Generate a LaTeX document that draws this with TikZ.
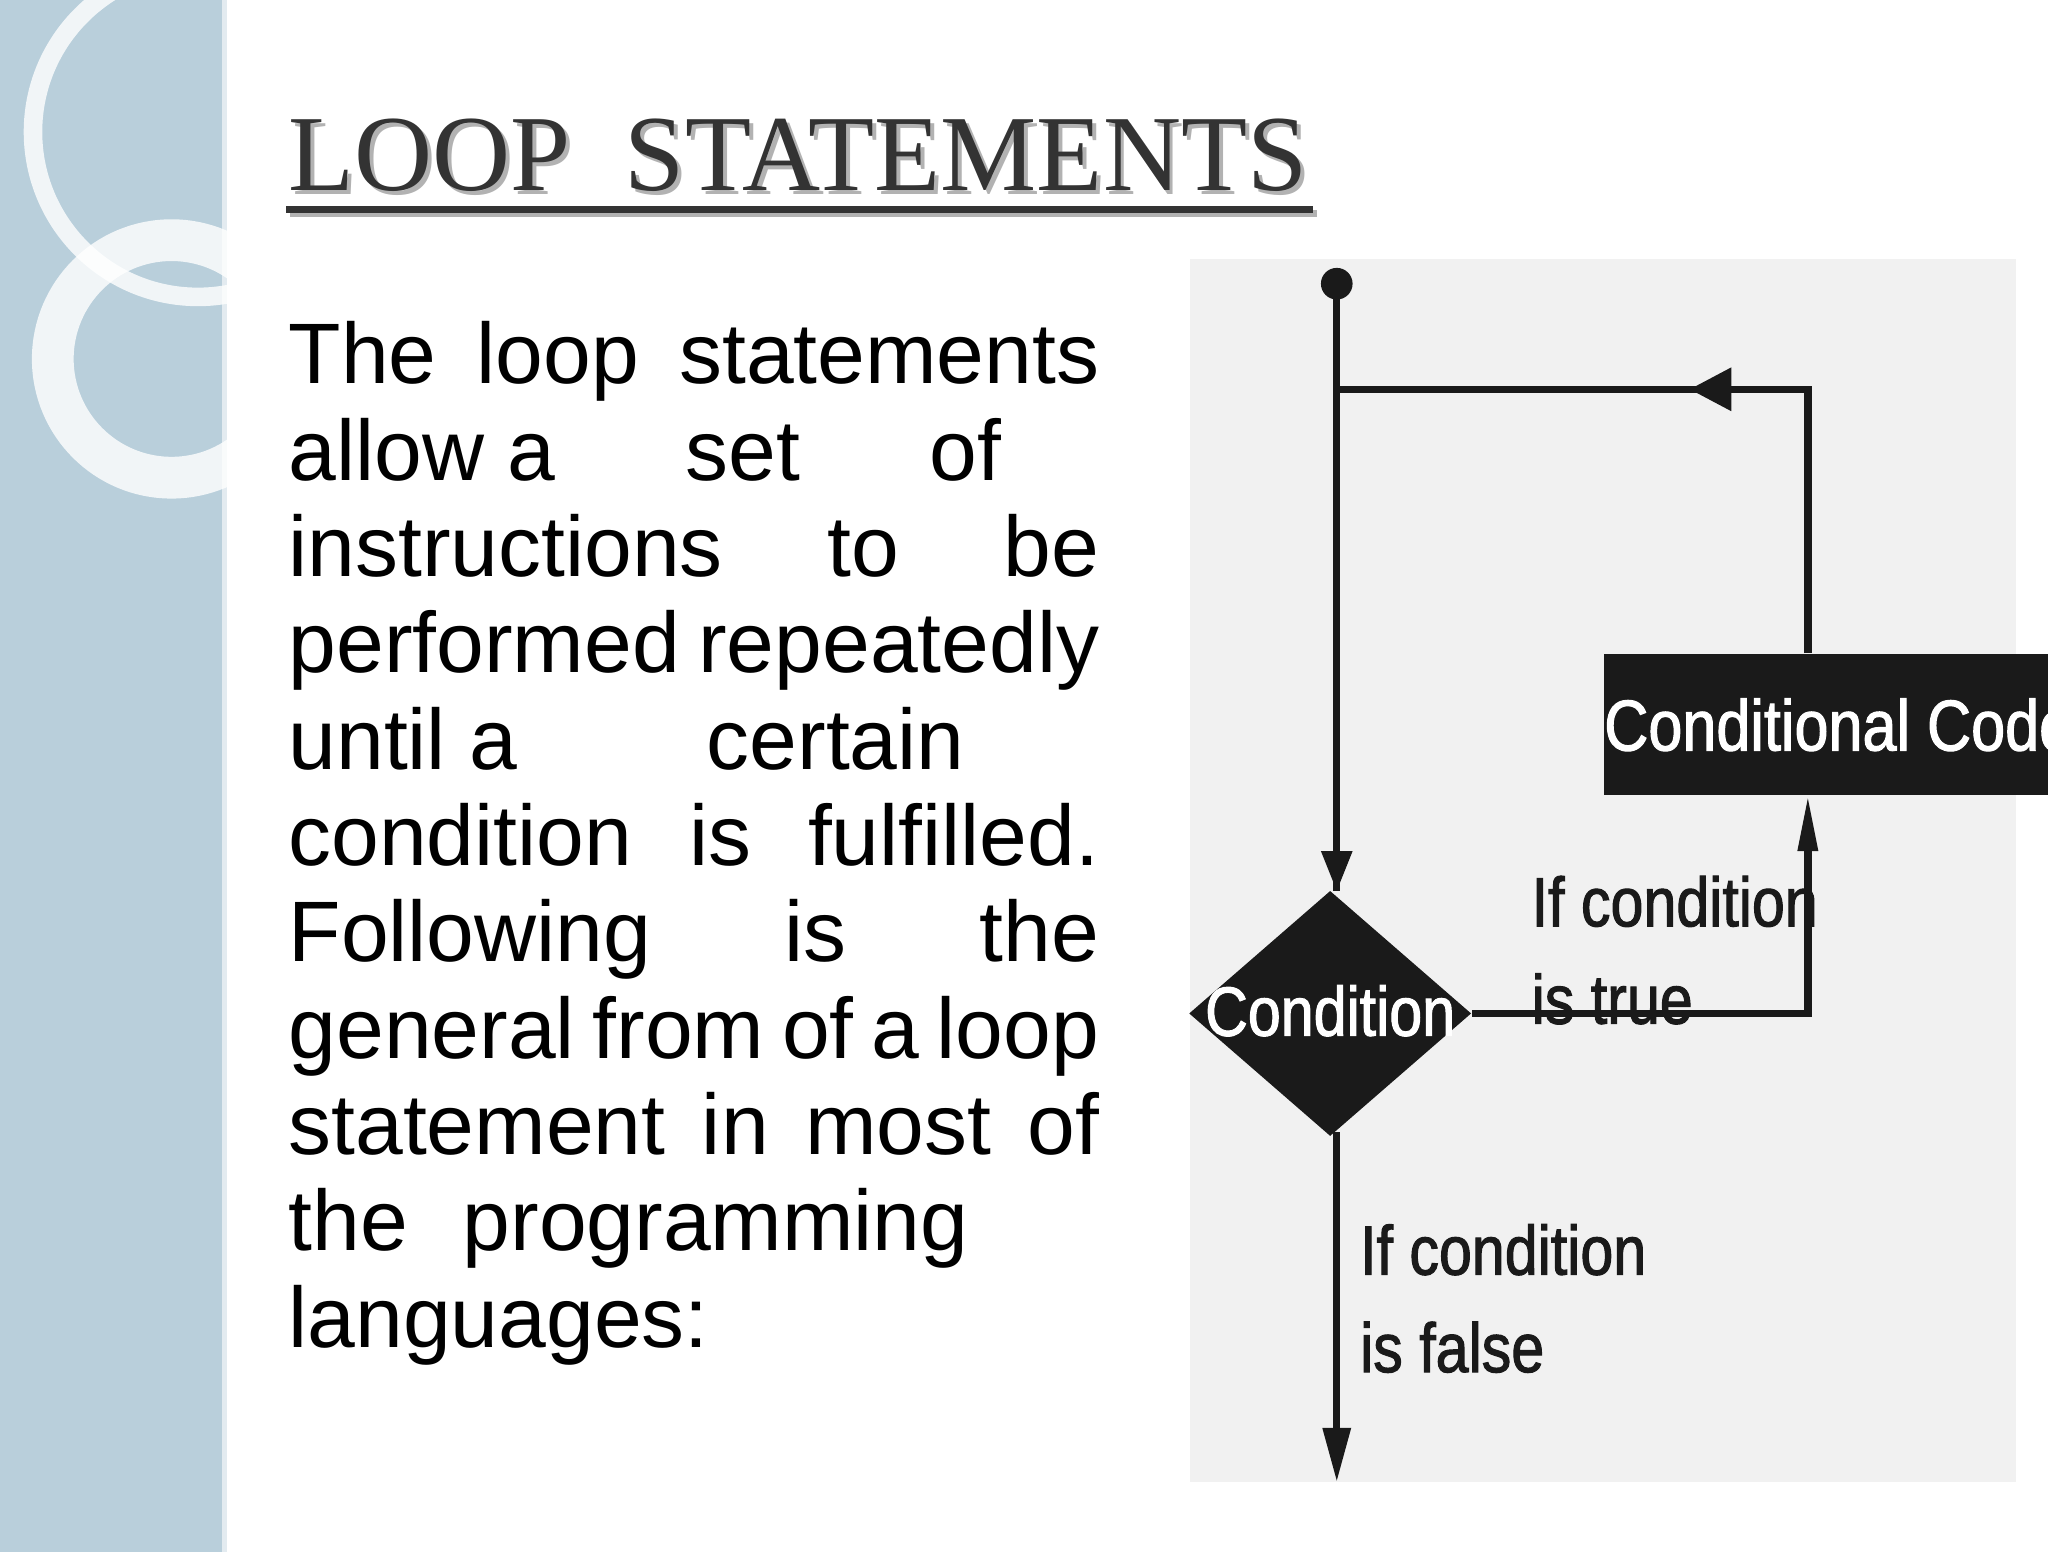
\documentclass[tikz,border=0pt]{standalone}
\usepackage{fontspec}
\setmainfont{Liberation Sans}
\newfontfamily\titlefont{Liberation Serif}
\newfontfamily\diagfont{Liberation Sans}[FakeBold=1.5,FakeStretch=0.85]
\usetikzlibrary{arrows.meta,shapes.geometric,decorations.markings}
\definecolor{band}{HTML}{B9CFDB}
\definecolor{panel}{HTML}{F1F1F1}
\definecolor{dark}{HTML}{1A1A1A}
\begin{document}
\begin{tikzpicture}[x=0.01cm,y=-0.01cm,
  flow/.style={draw=dark,line width=1.6pt},
  midarrow/.style={postaction={decorate},decoration={markings,mark=at position #1 with {\arrow{Triangle[length=9pt,width=9pt]}}}},
  lbl/.style={font=\diagfont\fontsize{15}{19}\selectfont,text=dark,align=left,anchor=north west,inner sep=0pt},
  body/.style={anchor=north west,inner sep=0pt,font=\fontsize{18.5}{22}\selectfont}]
\useasboundingbox (0,0) rectangle (1552,1176);
\fill[white] (0,0) rectangle (1552,1176);
% left band
\fill[band] (0,0) rectangle (172,1176);
\draw[white,line width=4pt,opacity=0.8] (150,100) circle (125);
\draw[white,line width=9pt,opacity=0.8] (130,272) circle (90);
\draw[white,line width=2pt,opacity=0.6] (172,0) -- (172,1176);
% title
\node[anchor=south west,inner sep=0pt,text=gray!60,font=\titlefont\fontsize{23.3}{26}\selectfont] (ts) at (221,149) {LOOP\ \ STATEMENTS};
\node[anchor=south west,inner sep=0pt,text=black!80,font=\titlefont\fontsize{23.3}{26}\selectfont] (title) at (218,146) {LOOP\ \ STATEMENTS};
\draw[gray!60,line width=1.5pt] (220,162) -- (998,162);
\draw[black!80,line width=1.5pt] (217,159) -- (995,159);
% body text
\node[body] (l1) at (218,243) {\makebox[6.14cm][s]{The\hfill loop\hfill statements}};
\node[body] (l2) at (218,316) {\makebox[5.4cm][s]{allow a\hfill set\hfill of}};
\node[body] (l3) at (218,389) {\makebox[6.14cm][s]{instructions\hfill to\hfill be}};
\node[body] (l4) at (218,462) {\makebox[6.14cm][s]{performed\hfill repeatedly}};
\node[body] (l5) at (218,535) {\makebox[5.12cm][s]{until a\hfill certain}};
\node[body] (l6) at (218,608) {\makebox[6.14cm][s]{condition\hfill is\hfill fulfilled.}};
\node[body] (l7) at (218,681) {\makebox[6.14cm][s]{Following\hfill is\hfill the}};
\node[body] (l8) at (218,754) {\makebox[6.14cm][s]{general\hfill from\hfill of\hfill a\hfill loop}};
\node[body] (l9) at (218,827) {\makebox[6.14cm][s]{statement\hfill in\hfill most\hfill of}};
\node[body] (l10) at (218,900) {\makebox[5.15cm][s]{the\hfill programming}};
\node[body] (l11) at (218,973) {languages:};
% diagram panel
\fill[panel] (902,196) rectangle (1528,1123);
\fill[dark] (1013,215) circle (12);
\coordinate (start) at (1013,215);
\node[diamond,fill=dark,minimum width=2.14cm,minimum height=1.86cm,inner sep=0pt] (cond) at (1008,768) {};
\node[font=\diagfont\fontsize{15}{18}\selectfont,text=white] at (1008,766) {Condition};
\node[fill=dark,minimum width=3.13cm,minimum height=1.07cm,inner sep=0pt,anchor=north west,text=white,font=\diagfont\fontsize{15.5}{18}\selectfont] (code) at (1215,495) {Conditional Code};
\coordinate (j1) at (1013,295);
\coordinate (j2) at (1370,295);
\coordinate (j3) at (1370,768);
\coordinate (end) at (1013,1122);
\draw[flow] (start) -- (1013,675);
\draw[fill=dark,draw=none] (1001,645) -- (1025,645) -- (1013,675) -- cycle;
\draw[flow,midarrow=0.52] (code.north -| j2) -- (j2) -- (j1);
\draw[flow] (cond.east) -- (j3) -- (1370,630);
\draw[fill=dark,draw=none] (1362,645) -- (1378,645) -- (1370,605) -- cycle;
\draw[flow] (1013,858) -- (1013,1090);
\draw[fill=dark,draw=none] (1002,1082) -- (1024,1082) -- (1013,1122) -- cycle;
\node[lbl] (t1) at (1160,663) {If condition\\[2pt]is true};
\node[lbl] (t2) at (1030,927) {If condition\\[2pt]is false};
\end{tikzpicture}
\end{document}
